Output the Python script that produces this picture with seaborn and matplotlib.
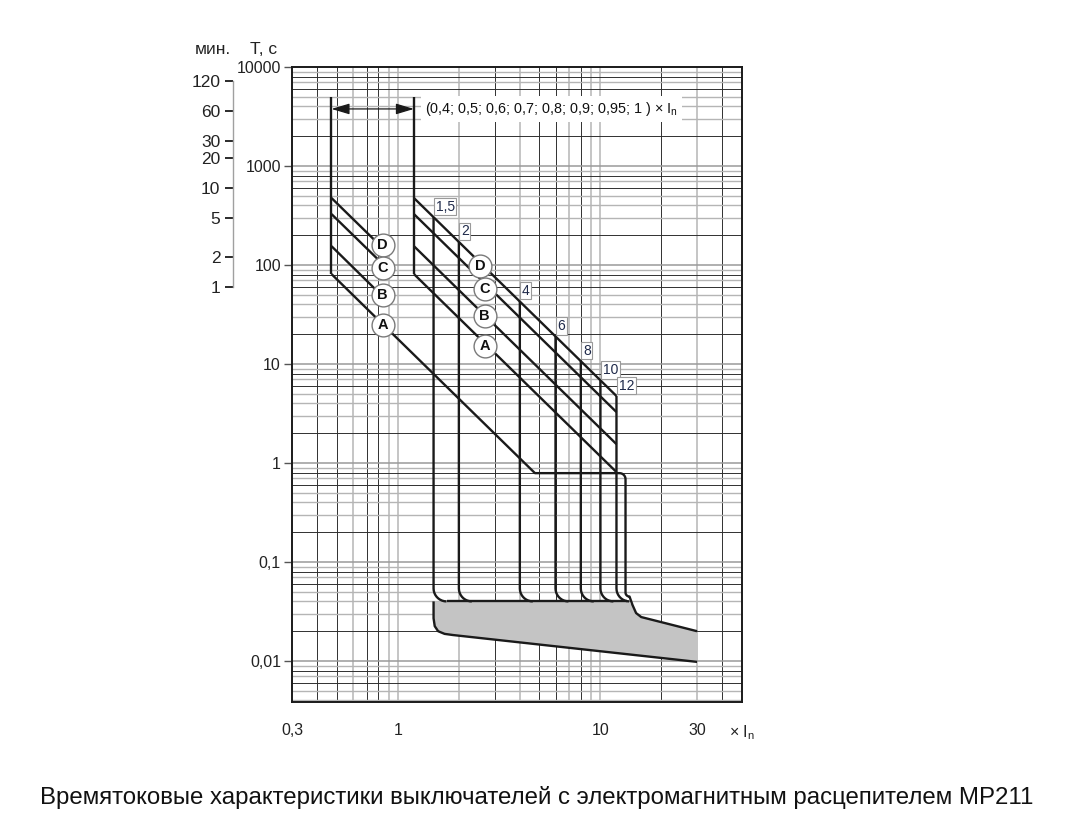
import numpy as np
import matplotlib
matplotlib.use("Agg")
import matplotlib.pyplot as plt
import seaborn as sns
from matplotlib import font_manager

# ---------------- data ----------------
x_ticks = [0.3, 1, 10, 30, 50]
x_tick_labels = ["0,3", "1", "10", "30", "× I$_\\mathregular{n}$"]
y_ticks = [0.01, 0.1, 1, 10, 100, 1000, 10000]
y_tick_labels = ["0,01", "0,1", "1", "10", "100", "1000", "10000"]
minute_ticks = [1, 2, 5, 10, 20, 30, 60, 120]

curve_names = ["D", "C", "B", "A"]
setting_low = 0.47          # start of the 0,4 In family
setting_high = 1.2          # start of the 1 In family
vertical_top = 5000
start_times = [475, 327, 155, 81]          # D, C, B, A at the start
left_end_x = [0.86, 0.86, 0.86, 4.75]
left_end_t = [142, 98, 46, 0.79]
right_end_x = 12
right_end_t = [4.75, 3.27, 1.55, 0.81]

trip_multiples = [1.5, 2, 4, 6, 8, 10, 12]
trip_labels = ["1,5", "2", "4", "6", "8", "10", "12"]
trip_tops = [304, 171, 43, 19, 10.7, 6.8, 4.75]
magnetic_time = 0.04
floor_time = 0.79
floor_end_x = 13.3

band_top_x = [13.6, 14.4, 15.0, 15.9, 30]
band_top_t = [0.04, 0.0368, 0.0305, 0.0278, 0.020]
band_bottom_x = [1.5, 1.5, 1.52, 1.58, 1.70, 1.87, 30]
band_bottom_t = [0.04, 0.027, 0.0225, 0.0200, 0.0188, 0.0183, 0.0098]

circle_left_x = [0.84, 0.84, 0.84, 0.84]
circle_left_t = [159, 93, 50, 25]
circle_right_x = [2.54, 2.68, 2.68, 2.68]
circle_right_t = [98, 57, 30.5, 15.2]

arrow_time = 3770
setting_text = "(0,4; 0,5; 0,6; 0,7; 0,8; 0,9; 0,95; 1 ) × I$_\\mathregular{n}$"
title = "Времятоковые характеристики выключателей с электромагнитным расцепителем МР211"

# ---------------- style ----------------
sns.set_theme(style="white")
names = {f.name for f in font_manager.fontManager.ttflist}
narrow = "Liberation Sans Narrow" if "Liberation Sans Narrow" in names else "Liberation Sans"
plt.rcParams["font.family"] = ["Liberation Sans", "DejaVu Sans"]
plt.rcParams["mathtext.fontset"] = "custom"
plt.rcParams["mathtext.rm"] = "Liberation Sans"

INK = "#1a1a1a"
LW = 1.7
PX_X, PX_Y = 203.0, 99.0   # pixels per decade


def corner_down_right(xv, yh, r, n=10):
    rx, ry = r / PX_X, r / PX_Y
    lx, ly = np.log10(xv), np.log10(yh)
    th = np.linspace(np.pi, 1.5 * np.pi, n)
    return 10 ** (lx + rx + rx * np.cos(th)), 10 ** (ly + ry + ry * np.sin(th))


def corner_right_down(xv, yh, r, n=8):
    rx, ry = r / PX_X, r / PX_Y
    lx, ly = np.log10(xv), np.log10(yh)
    th = np.linspace(0.5 * np.pi, 0, n)
    return 10 ** (lx - rx + rx * np.cos(th)), 10 ** (ly - ry + ry * np.sin(th))


def line(ax, xs, ys, lw=LW, z=4):
    sns.lineplot(x=np.asarray(xs, float), y=np.asarray(ys, float), ax=ax, sort=False,
                 estimator=None, color=INK, lw=lw, zorder=z,
                 solid_capstyle="butt", solid_joinstyle="round")


fig = plt.figure(figsize=(10.71, 8.22), dpi=100)
ax = fig.add_axes([292 / 1071, 120 / 822, 450 / 1071, 635 / 822])
ax.set_xscale("log")
ax.set_yscale("log")
ax.set_xlim(0.3, 50)
ax.set_ylim(10 ** (-2.414), 10000)

# grid
x_dark = [0.4, 0.5, 0.7, 0.8, 3, 5, 6, 8, 20, 40]
x_light = [0.6, 0.9, 1, 2, 4, 7, 9, 10, 30]
for v in x_dark:
    ax.axvline(v, color="#303030", lw=0.7, zorder=1)
for v in x_light:
    ax.axvline(v, color="#b5b5b5", lw=1.1, zorder=1)
for d in range(-3, 4):
    for k in range(1, 10):
        v = k * 10.0 ** d
        if v < 0.0039 or v >= 10000:
            continue
        if k in (2, 6, 8):
            ax.axhline(v, color="#303030", lw=0.7, zorder=1)
        elif k == 1:
            ax.axhline(v, color="#9a9a9a", lw=1.1, zorder=1)
        else:
            ax.axhline(v, color="#b5b5b5", lw=1.0, zorder=1)

# shaded band
poly_x = [band_bottom_x[0]] + list(band_top_x[:1]) + band_top_x + band_bottom_x[::-1]
poly_t = [magnetic_time, magnetic_time] + band_top_t + band_bottom_t[::-1]
ax.fill(poly_x, poly_t, color="#c4c4c4", zorder=2, lw=0)

# left family
line(ax, [setting_low, setting_low], [vertical_top, start_times[3]])
for i in range(3):
    line(ax, [setting_low, left_end_x[i]], [start_times[i], left_end_t[i]])
cx1, cy1 = corner_right_down(floor_end_x, floor_time, 6)
cx2, cy2 = corner_down_right(floor_end_x, magnetic_time * 1.12, 4)
line(ax, np.r_[setting_low, left_end_x[3], cx1, cx2, band_top_x[1:]],
     np.r_[start_times[3], left_end_t[3], cy1, cy2, band_top_t[1:]])

# right family
line(ax, [setting_high, setting_high], [vertical_top, start_times[3]])
for i in range(4):
    line(ax, [setting_high, right_end_x], [start_times[i], right_end_t[i]])

# instantaneous trip verticals
for m, top in zip(trip_multiples, trip_tops):
    cx, cy = corner_down_right(m, magnetic_time, 13)
    line(ax, np.r_[m, cx], np.r_[top, cy])
line(ax, [1.5 * 10 ** (13 / PX_X), band_top_x[0]], [magnetic_time, magnetic_time])
line(ax, band_bottom_x, band_bottom_t)

# labels of trip multiples
for m, top, lab in zip(trip_multiples, trip_tops, trip_labels):
    ax.annotate(lab, xy=(m, top), xytext=(1.5, 2.5), textcoords="offset points",
                ha="left", va="bottom", fontsize=10, family=narrow, color="#1f2a4a",
                bbox=dict(boxstyle="square,pad=0.12", fc="white", ec="#9a9a9a", lw=0.8),
                zorder=6)

# circled letters
for xs, ts in ((circle_left_x, circle_left_t), (circle_right_x, circle_right_t)):
    sns.scatterplot(x=xs, y=ts, ax=ax, s=270, color="white", edgecolor="#7a7a7a",
                    linewidth=1.0, zorder=6, legend=False)
    for xv, tv, nm in zip(xs, ts, curve_names):
        ax.text(xv, tv, nm, ha="center", va="center", fontsize=10.5, fontweight="bold",
                color="#111111", zorder=7)

# setting range arrow + text
ax.annotate("", xy=(setting_low, arrow_time), xytext=(setting_high, arrow_time),
            arrowprops=dict(arrowstyle="<|-|>,head_length=1.0,head_width=0.3",
                            color=INK, lw=0.9, mutation_scale=11, shrinkA=0, shrinkB=0),
            zorder=5)
ax.text(1.36, arrow_time, setting_text, ha="left", va="center", fontsize=10.4,
        family=narrow, color="#111111", zorder=6,
        bbox=dict(boxstyle="square,pad=0.3", fc="white", ec="none"))

# axes decoration
for s in ax.spines.values():
    s.set_color(INK)
    s.set_linewidth(1.4)
    s.set_zorder(5)
ax.set_xticks(x_ticks)
ax.set_xticklabels(x_tick_labels)
ax.set_xticks([0.3, 50], minor=True)
ax.set_xticklabels([], minor=True)
ax.tick_params(axis="x", which="major", length=0, pad=15, labelsize=11.5, labelcolor="#222222")
ax.tick_params(axis="x", which="minor", length=6, width=1.2, color=INK, direction="out")
ax.set_yticks(y_ticks)
ax.set_yticklabels(y_tick_labels)
ax.yaxis.set_minor_locator(matplotlib.ticker.NullLocator())
ax.tick_params(axis="y", which="major", length=6, width=1.0, color="#555555", pad=2,
               labelsize=11.5, labelcolor="#222222", left=True, direction="out")
ax.set_xlabel("")
ax.set_ylabel("")

# minutes axis
ax2 = fig.add_axes([233 / 1071, 120 / 822, 0.0005, 635 / 822])
ax2.set_yscale("log")
ax2.set_ylim(ax.get_ylim())
ax2.patch.set_visible(False)
for k in ("top", "right", "bottom"):
    ax2.spines[k].set_visible(False)
ax2.spines["left"].set_color("#a0a0a0")
ax2.spines["left"].set_linewidth(1.0)
ax2.spines["left"].set_bounds(60, 7200)
ax2.set_xticks([])
ax2.set_yticks([m * 60 for m in minute_ticks])
ax2.set_yticklabels([str(m) for m in minute_ticks])
ax2.yaxis.set_minor_locator(matplotlib.ticker.NullLocator())
ax2.tick_params(axis="y", length=6, width=1.3, color=INK, pad=3, labelsize=12.5,
                labelcolor="#222222", left=True, direction="out")

fig.text(213 / 1071, 1 - 50 / 822, "мин.", ha="center", va="center", fontsize=12.5, color="#222222")
fig.text(264 / 1071, 1 - 50 / 822, "T, с", ha="center", va="center", fontsize=12.5, color="#222222")
fig.text(537 / 1071, 1 - 797 / 822, title, ha="center", va="center", fontsize=17.3,
         family=narrow, color="#111111")

fig.savefig("out.png", dpi=100, facecolor="white")
